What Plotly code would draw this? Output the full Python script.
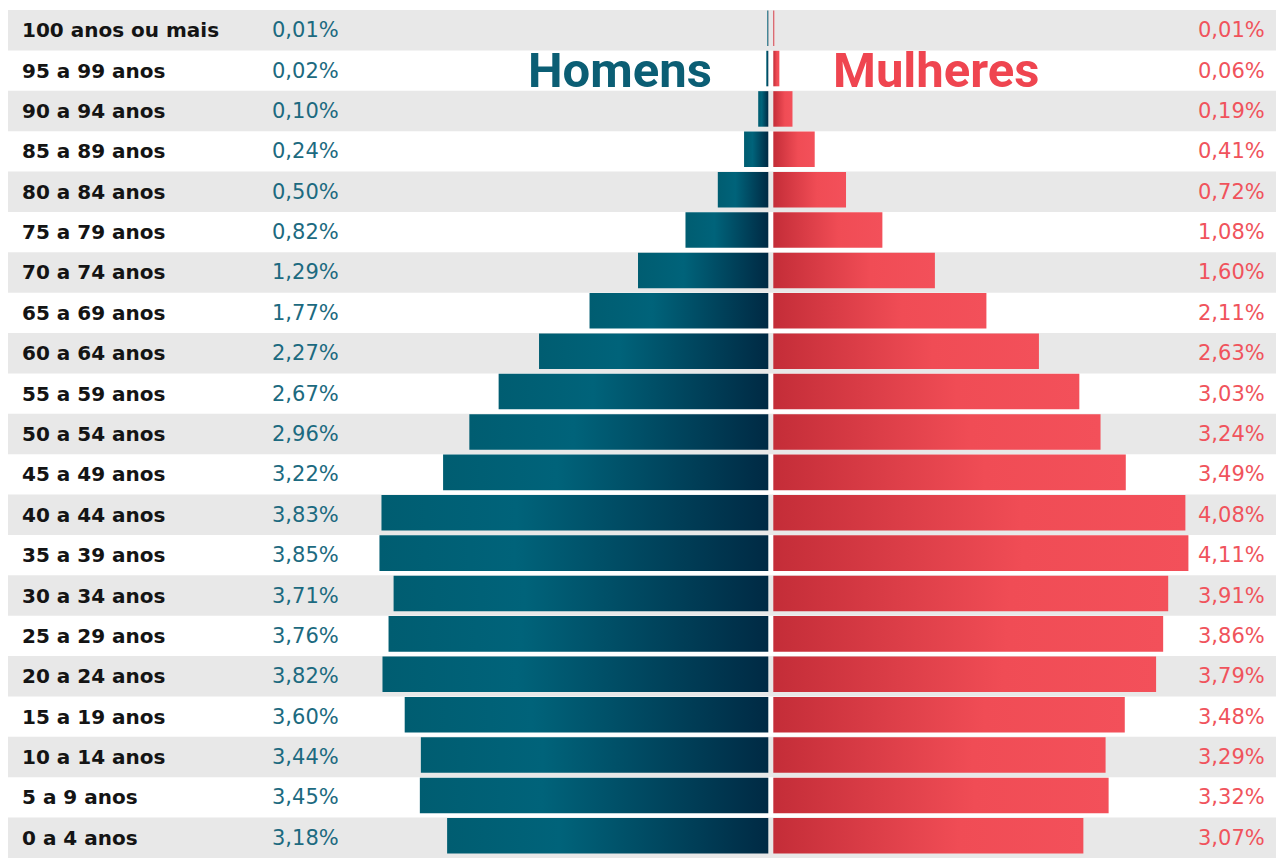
import plotly.graph_objects as go

# faixas etarias, de cima para baixo
faixas = ['100 anos ou mais', '95 a 99 anos', '90 a 94 anos', '85 a 89 anos', '80 a 84 anos',
          '75 a 79 anos', '70 a 74 anos', '65 a 69 anos', '60 a 64 anos', '55 a 59 anos',
          '50 a 54 anos', '45 a 49 anos', '40 a 44 anos', '35 a 39 anos', '30 a 34 anos',
          '25 a 29 anos', '20 a 24 anos', '15 a 19 anos', '10 a 14 anos', '5 a 9 anos', '0 a 4 anos']
homens = [0.01, 0.02, 0.10, 0.24, 0.50, 0.82, 1.29, 1.77, 2.27, 2.67, 2.96,
          3.22, 3.83, 3.85, 3.71, 3.76, 3.82, 3.60, 3.44, 3.45, 3.18]
mulheres = [0.01, 0.06, 0.19, 0.41, 0.72, 1.08, 1.60, 2.11, 2.63, 3.03, 3.24,
            3.49, 4.08, 4.11, 3.91, 3.86, 3.79, 3.48, 3.29, 3.32, 3.07]

# a pagina tem 8px de margem no body, entao a figura comeca em (8, 8)
OFF = 8
W, H = 1286 - OFF, 868 - OFF
px_per_pct = 101.0
x0_px = 770.8 - OFF
gap = 2.5 / px_per_pct  # meio vao branco entre homens e mulheres
half = 0.44   # meia altura da barra (em linhas)
shift = -0.05  # barras um pouco acima do centro da faixa

teal_scale = [[0, '#005D71'], [0.35, '#00637A'], [1, '#002A44']]
red_scale = [[0, '#C42D38'], [0.6, '#F04C55'], [1, '#F3505A']]


def fmt(v):
    return f'{v:.2f}'.replace('.', ',') + '%'


def px(x):
    return (x - OFF) / W


fig = go.Figure()

for i, (h, m) in enumerate(zip(homens, mulheres)):
    yc = i + shift
    ys = [yc - half, yc - half, yc + half, yc + half, yc - half]
    fig.add_trace(go.Scatter(
        x=[-gap - h, -gap, -gap, -gap - h, -gap - h], y=ys, mode='lines', line=dict(width=0),
        fill='toself', fillcolor='#00566B',
        fillgradient=dict(type='horizontal', colorscale=teal_scale),
        hoverinfo='skip', showlegend=False))
    fig.add_trace(go.Scatter(
        x=[gap, gap + m, gap + m, gap, gap], y=ys, mode='lines', line=dict(width=0),
        fill='toself', fillcolor='#E0414B',
        fillgradient=dict(type='horizontal', colorscale=red_scale),
        hoverinfo='skip', showlegend=False))

shapes = []
for i in range(0, len(faixas), 2):
    shapes.append(dict(type='rect', xref='paper', yref='y', x0=px(8), x1=px(1276),
                       y0=i - 0.5, y1=i + 0.5, fillcolor='#E8E8E8', line_width=0, layer='below'))

annotations = []
for i, (lab, h, m) in enumerate(zip(faixas, homens, mulheres)):
    annotations.append(dict(x=px(20), y=i, xref='paper', yref='y', text=lab, showarrow=False,
                            xanchor='left', yanchor='middle',
                            font=dict(family='DejaVu Sans', size=20, color='#141414', weight='bold')))
    annotations.append(dict(x=px(305), y=i, xref='paper', yref='y', text=fmt(h), showarrow=False,
                            xanchor='center', yanchor='middle',
                            font=dict(family='DejaVu Sans', size=21, color='#1C6A80')))
    annotations.append(dict(x=px(1267), y=i, xref='paper', yref='y', text=fmt(m), showarrow=False,
                            xanchor='right', yanchor='middle',
                            font=dict(family='DejaVu Sans', size=21, color='#F0535C')))

annotations.append(dict(x=px(620), y=1, xref='paper', yref='y', text='Homens', showarrow=False,
                        xanchor='center', yanchor='middle',
                        font=dict(family='Roboto', size=49, color='#0B5E74', weight='bold')))
annotations.append(dict(x=px(936), y=1, xref='paper', yref='y', text='Mulheres', showarrow=False,
                        xanchor='center', yanchor='middle',
                        font=dict(family='Roboto', size=49, color='#EF4550', weight='bold')))

fig.update_layout(
    width=W, height=H,
    margin=dict(l=0, r=0, t=10 - OFF, b=10),
    paper_bgcolor='white', plot_bgcolor='white',
    xaxis=dict(range=[-x0_px / px_per_pct, (W - x0_px) / px_per_pct], visible=False, fixedrange=True),
    yaxis=dict(range=[len(faixas) - 0.5, -0.5], visible=False, fixedrange=True),
    shapes=shapes, annotations=annotations,
)

fig.write_html("out.html", config={'displayModeBar': False})
